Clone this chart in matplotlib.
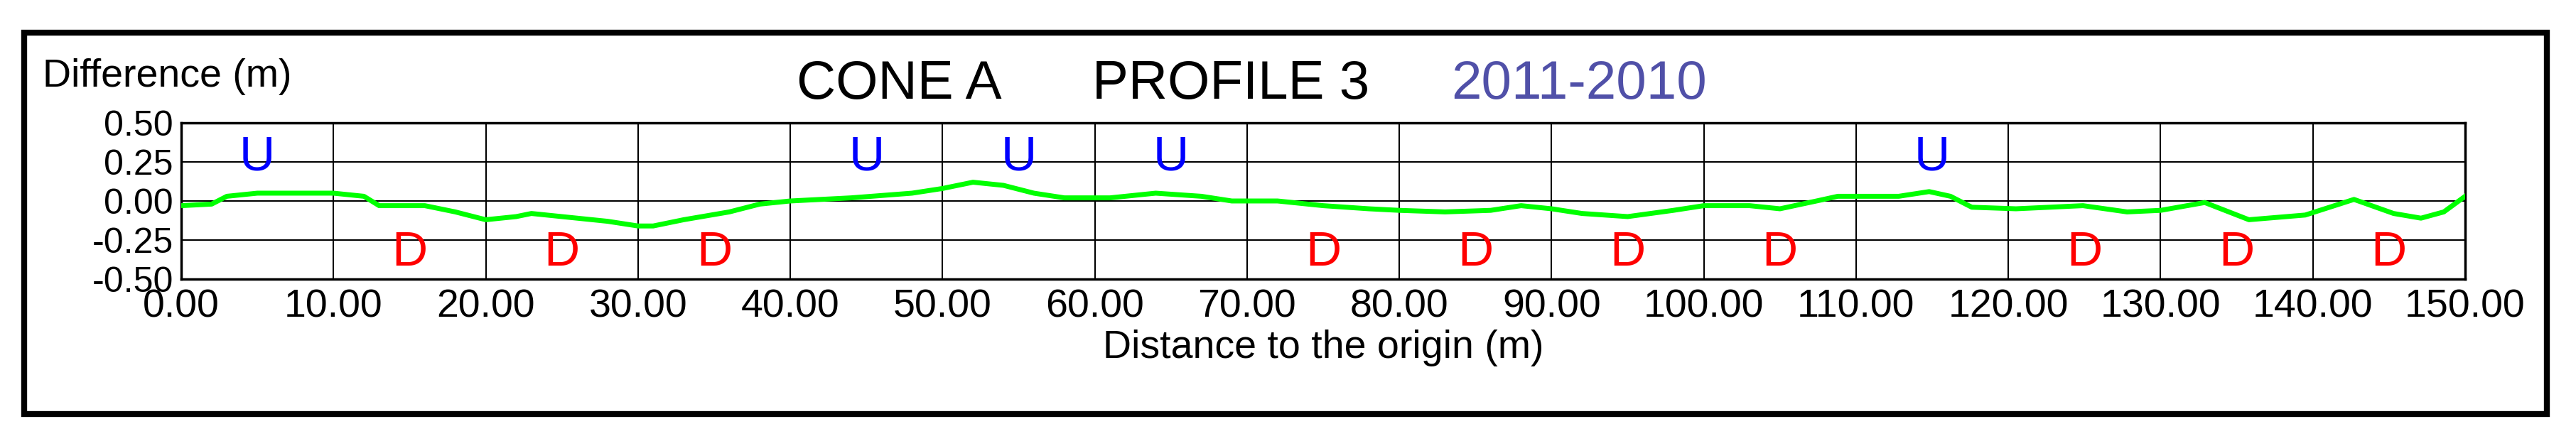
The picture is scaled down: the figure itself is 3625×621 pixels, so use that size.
import matplotlib
matplotlib.use("Agg")
import matplotlib.pyplot as plt
from matplotlib.patches import Rectangle

dist = [0, 2, 3, 5, 10, 12, 13, 16, 18, 20, 22, 23, 25, 28, 30, 31, 33, 36, 38, 40, 44, 48, 50, 52, 54, 56, 58, 61, 64, 67, 69, 72, 75, 78, 80, 83, 86, 88, 90, 92, 95, 98, 100, 103, 105, 107.4, 108.8, 112.8, 114.8, 116.2, 117.6, 120.5, 124.9, 127.8, 130, 132.9, 135.8, 139.5, 142.7, 145.3, 147.1, 148.6, 150]
diff = [-0.03, -0.02, 0.03, 0.05, 0.05, 0.03, -0.03, -0.03, -0.07, -0.12, -0.10, -0.08, -0.10, -0.13, -0.16, -0.16, -0.12, -0.07, -0.02, 0.0, 0.02, 0.05, 0.08, 0.12, 0.10, 0.05, 0.02, 0.02, 0.05, 0.03, 0.0, 0.0, -0.03, -0.05, -0.06, -0.07, -0.06, -0.03, -0.05, -0.08, -0.10, -0.06, -0.03, -0.03, -0.05, 0.0, 0.03, 0.03, 0.06, 0.03, -0.04, -0.05, -0.03, -0.07, -0.06, -0.01, -0.12, -0.09, 0.01, -0.08, -0.11, -0.07, 0.03]
u_pos = [5, 45, 55, 65, 115]
d_pos = [15, 25, 35, 75, 85, 95, 105, 125, 135, 145]
xticks = [0, 10, 20, 30, 40, 50, 60, 70, 80, 90, 100, 110, 120, 130, 140, 150]
yticks = [-0.5, -0.25, 0.0, 0.25, 0.5]

FONT = ['Liberation Sans Narrow', 'Liberation Sans', 'DejaVu Sans']
plt.rcParams['font.family'] = FONT

W, H = 3625, 621
fig = plt.figure(figsize=(W/100, H/100), dpi=100)
fig.patches.append(Rectangle((34/W, 1-583/H), (3584-34)/W, (583-46)/H, transform=fig.transFigure,
                             fill=False, lw=6, ec='black'))
ax = fig.add_axes([255/W, 1-393/H, (3469-255)/W, (393-173)/H])
ax.plot(dist, diff, color='#00ff00', lw=5, zorder=3)
ax.set_xlim(0, 150)
ax.set_ylim(-0.5, 0.5)
ax.set_xticks(xticks)
ax.set_xticklabels([f"{v:.2f}" for v in xticks])
ax.set_yticks(yticks)
ax.set_yticklabels([f"{v:.2f}" for v in yticks])
ax.tick_params(axis='x', length=0, labelsize=40, pad=10)
ax.tick_params(axis='y', length=0, labelsize=36, pad=8)
ax.grid(True, color='black', lw=1.5, zorder=1)
for s in ax.spines.values():
    s.set_linewidth(2.5)
for x in u_pos:
    ax.text(x, 0.28, 'U', color='#0000ff', fontsize=50, ha='center', va='center', zorder=4)
for x in d_pos:
    ax.text(x, -0.33, 'D', color='#ff0000', fontsize=50, ha='center', va='center', zorder=4)
ax.set_xlabel('Distance to the origin (m)', fontsize=40, labelpad=4)
fig.text(60/W, 1-108/H, 'Difference (m)', fontsize=40, va='center', ha='left')
fig.text(1121/W, 1-120/H, 'CONE A', fontsize=55, va='center', ha='left')
fig.text(1537/W, 1-120/H, 'PROFILE 3', fontsize=55, va='center', ha='left')
fig.text(2042/W, 1-120/H, '2011-2010', fontsize=55, va='center', ha='left', color='#5050a8')
fig.savefig('out.png', dpi=100)
